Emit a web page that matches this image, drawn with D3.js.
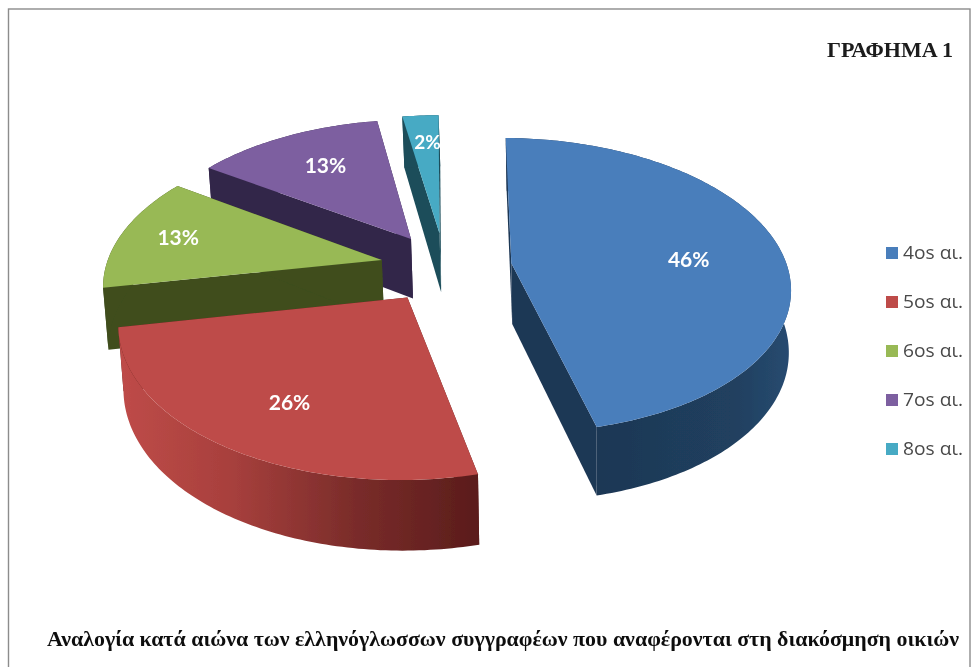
<!DOCTYPE html>
<html><head><meta charset="utf-8">
<script src="https://cdn.jsdelivr.net/npm/d3@7"></script>
<style>html,body{margin:0;padding:0;background:#fff;overflow:hidden}</style>
</head><body><div id="c"></div>
<script>
const categories = ["4os αι.","5os αι.","6os αι.","7os αι.","8os αι."];
const values = [46.1,25.7,12.5,12.9,2.49];
const topColors = ["#4a7ebb","#be4b48","#98b954","#7d5fa0","#46aac4"];
const wallColors = ["#1e3755","#5c1f1d","#3f4e1f","#33264a","#1b4d5a"];
const drawOrder = [4,3,2,1,0];
const title = "ΓΡΑΦΗΜΑ 1";
const caption = "Αναλογία κατά αιώνα των ελληνόγλωσσων συγγραφέων που αναφέρονται στη διακόσμηση οικιών";

const W=978,H=667;
const cx=445,cy=267,R=276,Ry=145,k=0.15;
const explode=[67,67,65,65,67];
const labelR=[0.67,0.71,0.79,0.66,0.76];
const labelNudge=[[-3,7],[7,4],[2,0],[0,-3],[3,1]];
const TAU=Math.PI*2, rot=0.002*TAU;

const svg=d3.select("#c").append("svg").attr("width",W).attr("height",H).style("display","block");
const defs=svg.append("defs");
defs.append("filter").attr("id","soft").attr("x","-5%").attr("y","-5%").attr("width","110%").attr("height","110%")
  .append("feGaussianBlur").attr("stdDeviation",0.6);
const grad=defs.append("linearGradient").attr("id","redWall")
  .attr("gradientUnits","userSpaceOnUse").attr("x1",122).attr("x2",480).attr("y1",0).attr("y2",0);
[[0,"#be4b48"],[0.3,"#a8403d"],[0.65,"#7a2c2a"],[1,"#5a1c1b"]].forEach(s=>grad.append("stop").attr("offset",s[0]).attr("stop-color",s[1]));
const gradB=defs.append("linearGradient").attr("id","blueWall")
  .attr("gradientUnits","userSpaceOnUse").attr("x1",600).attr("x2",790).attr("y1",0).attr("y2",0);
[[0,"#1e3755"],[0.7,"#20405f"],[1,"#274a70"]].forEach(s=>gradB.append("stop").attr("offset",s[0]).attr("stop-color",s[1]));

const root=svg.append("g").attr("filter","url(#soft)");
root.append("rect").attr("x",0).attr("y",0).attr("width",W).attr("height",H).attr("fill","#fff");
root.append("rect").attr("x",8.5).attr("y",9).attr("width",961.5).attr("height",H+20)
  .attr("fill","#fff").attr("stroke","#8c8c8c").attr("stroke-width",1.4);

function project(X,V,down){
  const s=1/(1+k*V/R);
  const x=cx+X*s, y=cy-Ry*(V/R)*s;
  if(!down) return [x,y];
  const d=61-8*(V/R);
  return [x+(590-x)*0.011, y+d];
}
function pt(a,r,e,mid,down){
  const X=e*Math.sin(mid)+r*Math.sin(a), V=e*Math.cos(mid)+r*Math.cos(a);
  return project(X,V,down);
}
const pie=d3.pie().sort(null).value(d=>d).startAngle(rot).endAngle(rot+TAU*d3.sum(values)/100);
const arcs=pie(values);
const line=d3.line();
const poly=p=>line(p)+"Z";

drawOrder.forEach(i=>{
  const d=arcs[i],mid=(d.startAngle+d.endAngle)/2;
  const n=Math.max(8,Math.ceil((d.endAngle-d.startAngle)*60));
  const as=d3.range(n+1).map(j=>d.startAngle+(d.endAngle-d.startAngle)*j/n);
  const g=root.append("g");
  const wall=i===1?"url(#redWall)":i===0?"url(#blueWall)":wallColors[i];
  const A=(a,down)=>pt(a,R,explode[i],mid,down), O=down=>pt(0,0,explode[i],mid,down);
  [d.startAngle,d.endAngle].forEach(a=>{
    g.append("path").attr("d",poly([O(false),A(a,false),A(a,true),O(true)])).attr("fill",wallColors[i]);
  });
  g.append("path").attr("d",poly(as.map(a=>A(a,false)).concat(as.slice().reverse().map(a=>A(a,true))))).attr("fill",wall);
  g.append("path").attr("d",poly([O(false)].concat(as.map(a=>A(a,false))))).attr("fill",topColors[i]);
});

arcs.forEach((d,i)=>{
  const mid=(d.startAngle+d.endAngle)/2;
  const p=pt(mid,R*labelR[i],explode[i],mid,false);
  root.append("text").attr("x",p[0]+labelNudge[i][0]).attr("y",p[1]+labelNudge[i][1]).attr("dy","0.36em").attr("text-anchor","middle")
    .attr("font-family","Lato").attr("font-weight",700).attr("font-size",i===4?19:21).attr("fill","#fff")
    .text(Math.round(values[i])+"%");
});

const ly=d3.scalePoint().domain(categories).range([253,449]);
categories.forEach((c,i)=>{
  root.append("rect").attr("x",886).attr("y",ly(c)-6).attr("width",12).attr("height",12).attr("fill",topColors[i]);
  root.append("text").attr("x",903).attr("y",ly(c)).attr("dy","0.36em")
    .attr("font-family","Open Sans").attr("font-size",18).attr("textLength",60).attr("lengthAdjust","spacingAndGlyphs")
    .attr("fill","#4a4a4a").text(c);
});

root.append("text").attr("x",827).attr("y",57).attr("textLength",126).attr("lengthAdjust","spacingAndGlyphs")
  .attr("font-family","Liberation Serif").attr("font-weight",700).attr("font-size",20).attr("fill","#1a1a1a").text(title);
root.append("text").attr("x",47).attr("y",646).attr("textLength",912).attr("lengthAdjust","spacingAndGlyphs")
  .attr("font-family","Liberation Serif").attr("font-weight",700).attr("font-size",21).attr("fill","#111").text(caption);
</script></body></html>
